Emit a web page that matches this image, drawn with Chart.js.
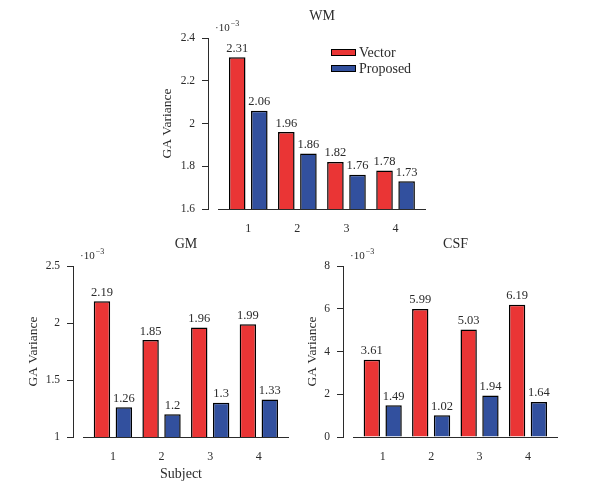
<!DOCTYPE html>
<html>
<head>
<meta charset="utf-8">
<script src="https://cdn.jsdelivr.net/npm/chart.js@4.4.1/dist/chart.umd.min.js"></script>
<style>
  body { margin: 0; background: #fff; }
  #wrap { position: relative; width: 600px; height: 488px; overflow: hidden; }
  canvas { position: absolute; }
</style>
</head>
<body>
<div id="wrap">
  <canvas id="wm" width="300" height="240" style="left:140px;top:0"></canvas>
  <canvas id="gm" width="300" height="260" style="left:0;top:228px"></canvas>
  <canvas id="csf" width="300" height="260" style="left:300px;top:228px"></canvas>
</div>
<script>
const subjects = [1, 2, 3, 4];

const wmVector = [2.31, 1.96, 1.82, 1.78];
const wmProposed = [2.06, 1.86, 1.76, 1.73];
const wmTicks = [1.6, 1.8, 2, 2.2, 2.4];

const gmVector = [2.19, 1.85, 1.96, 1.99];
const gmProposed = [1.26, 1.2, 1.3, 1.33];
const gmTicks = [1, 1.5, 2, 2.5];

const csfVector = [3.61, 5.99, 5.03, 6.19];
const csfProposed = [1.49, 1.02, 1.94, 1.64];
const csfTicks = [0, 2, 4, 6, 8];

const RED = "#ea3535";
const BLUE = "#32509e";
const INK = "#2b2b2b";
const FONT = "'Liberation Serif', 'Times New Roman', serif";

// titles, 10^-3 marker, legend, bar values, detached x axis line
const extras = {
  id: "extras",
  afterDraw(chart, args, opts) {
    const { ctx, chartArea } = chart;
    const gap = 10;
    ctx.save();
    ctx.fillStyle = INK;

    // x axis line (starts a bit right of the y axis)
    ctx.strokeStyle = INK;
    ctx.lineWidth = 1;
    ctx.beginPath();
    ctx.moveTo(chartArea.left + gap, Math.round(chartArea.bottom) + 0.5);
    ctx.lineTo(chartArea.right, Math.round(chartArea.bottom) + 0.5);
    ctx.stroke();

    // title
    ctx.font = "14px " + FONT;
    ctx.textAlign = "center";
    ctx.textBaseline = "middle";
    ctx.fillText(opts.title, (chartArea.left + gap + chartArea.right) / 2, chartArea.top - 22);

    // ·10^-3
    ctx.textAlign = "left";
    ctx.textBaseline = "alphabetic";
    ctx.font = "11px " + FONT;
    const ex = chartArea.left + 7;
    const ey = chartArea.top - 7;
    ctx.fillText("\u00b710", ex, ey);
    const w = ctx.measureText("\u00b710").width;
    ctx.font = "8px " + FONT;
    ctx.fillText("\u22123", ex + w + 1, ey - 5);

    // bar values
    ctx.font = "12.5px " + FONT;
    ctx.textAlign = "center";
    chart.data.datasets.forEach((ds, i) => {
      chart.getDatasetMeta(i).data.forEach((bar, j) => {
        ctx.fillText(String(ds.data[j].y), bar.x, bar.y - 5.5);
      });
    });

    // legend
    if (opts.legend) {
      const lx = chartArea.left + 123;
      let ly = chartArea.top + 11;
      chart.data.datasets.forEach((ds) => {
        ctx.fillStyle = ds.backgroundColor;
        ctx.fillRect(lx, ly, 25, 7);
        ctx.strokeStyle = "#000";
        ctx.strokeRect(lx + 0.5, ly + 0.5, 24, 6);
        ctx.fillStyle = INK;
        ctx.font = "14px " + FONT;
        ctx.textAlign = "left";
        ctx.textBaseline = "middle";
        ctx.fillText(ds.label, lx + 28, ly + 4);
        ly += 16;
      });
    }
    ctx.restore();
  },
};

function toPoints(values) {
  return subjects.map((s, i) => ({ x: s, y: values[i] }));
}

function makeChart(id, cfg) {
  return new Chart(document.getElementById(id), {
    type: "bar",
    data: {
      datasets: [
        {
          label: "Vector",
          data: toPoints(cfg.vector),
          backgroundColor: RED,
          borderColor: "#000",
          borderWidth: 1.5,
        },
        {
          label: "Proposed",
          data: toPoints(cfg.proposed),
          backgroundColor: BLUE,
          borderColor: "#000",
          borderWidth: 1.5,
        },
      ],
    },
    options: {
      responsive: false,
      animation: false,
      categoryPercentage: 0.9,
      barPercentage: 0.75,
      layout: { padding: { top: 38, right: cfg.padRight, left: 0, bottom: 0 } },
      plugins: {
        legend: { display: false },
        tooltip: { enabled: false },
        extras: { title: cfg.title, legend: cfg.legend },
      },
      scales: {
        x: {
          type: "linear",
          offset: false,
          min: 0.18,
          max: 4.62,
          grid: { display: false, offset: false },
          border: { display: false },
          afterBuildTicks: (s) => {
            s.ticks = subjects.map((v) => ({ value: v }));
          },
          afterFit: (s) => {
            s.height = cfg.xHeight;
          },
          ticks: {
            padding: 5,
            color: INK,
            font: { family: FONT, size: 12 },
          },
          title: {
            display: !!cfg.xTitle,
            text: cfg.xTitle || "",
            color: INK,
            font: { family: FONT, size: 14 },
            padding: { top: 0, bottom: 5 },
          },
        },
        y: {
          min: cfg.ticks[0],
          max: cfg.ticks[cfg.ticks.length - 1],
          afterBuildTicks: (s) => {
            s.ticks = cfg.ticks.map((v) => ({ value: v }));
          },
          afterFit: (s) => {
            s.width = cfg.yWidth;
          },
          grid: {
            drawOnChartArea: false,
            tickLength: 6,
            color: INK,
          },
          border: { color: INK, width: 1 },
          ticks: {
            padding: 7,
            color: INK,
            font: { family: FONT, size: 11.5 },
            callback: (v) => String(v),
          },
          title: {
            display: true,
            text: "GA Variance",
            color: INK,
            font: { family: FONT, size: 13.5 },
            padding: { top: cfg.yTitlePad, bottom: 0 },
          },
        },
      },
    },
    plugins: [extras],
  });
}

makeChart("wm", {
  title: "WM",
  vector: wmVector,
  proposed: wmProposed,
  ticks: wmTicks,
  legend: true,
  yWidth: 68,
  padRight: 14,
  xHeight: 31,
  yTitlePad: 19,
});

makeChart("gm", {
  title: "GM",
  vector: gmVector,
  proposed: gmProposed,
  ticks: gmTicks,
  legend: false,
  xTitle: "Subject",
  yWidth: 73,
  padRight: 11,
  xHeight: 51,
  yTitlePad: 25,
});

makeChart("csf", {
  title: "CSF",
  vector: csfVector,
  proposed: csfProposed,
  ticks: csfTicks,
  legend: false,
  yWidth: 43,
  padRight: 42,
  xHeight: 51,
  yTitlePad: 4,
});
</script>
</body>
</html>
